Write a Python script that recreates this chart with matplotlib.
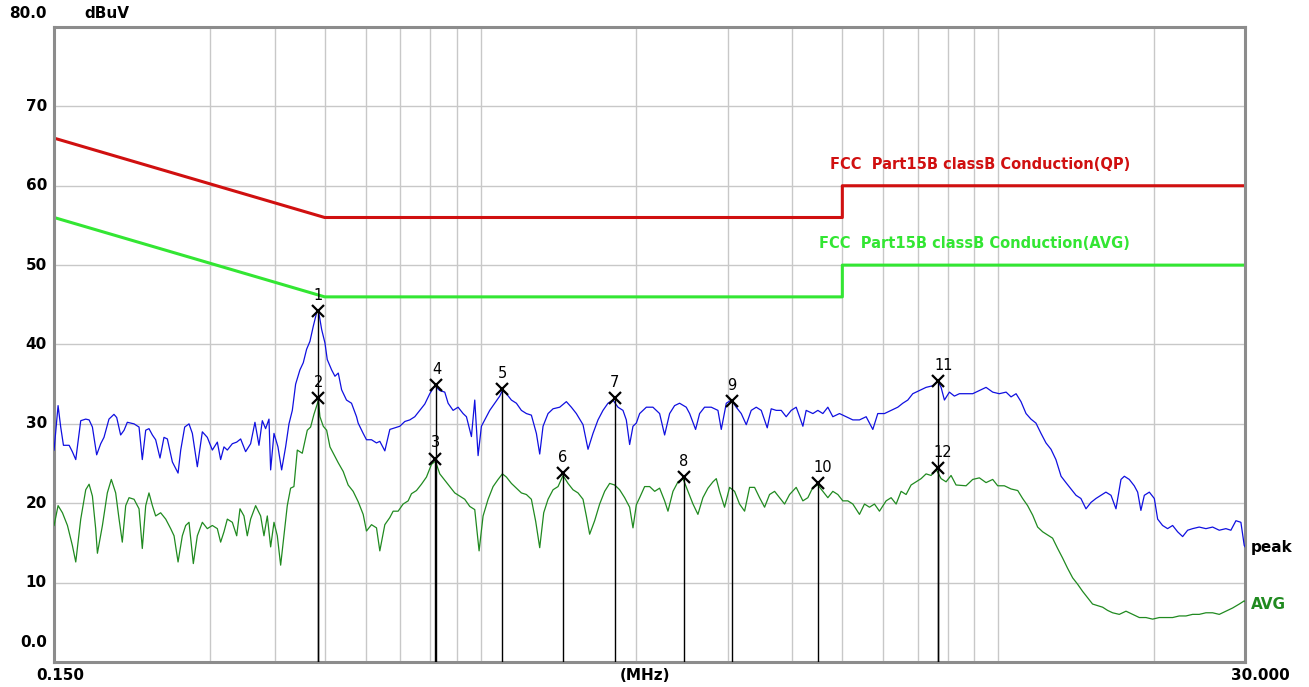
import matplotlib.pyplot as plt
from matplotlib.ticker import NullLocator

# -------------------------------
# 1. Data
# -------------------------------
# peak trace (MHz, dBuV)
peak_mhz = [
    0.150, 0.1527, 0.1545, 0.1564, 0.1604, 0.1627, 0.1652, 0.1689, 0.1727, 0.1753,
    0.1779, 0.1813, 0.1846, 0.1873, 0.1915, 0.1958, 0.1982, 0.2017, 0.2048, 0.2078,
    0.2141, 0.2189, 0.2221, 0.2255, 0.2288, 0.2323, 0.2357, 0.2403, 0.2446, 0.2483,
    0.2539, 0.2604, 0.2635, 0.2682, 0.2734, 0.2775, 0.2837, 0.2901, 0.2966, 0.3033,
    0.3101, 0.3147, 0.3194, 0.3242, 0.3315, 0.3380, 0.3440, 0.3517, 0.3596, 0.3666,
    0.3732, 0.3788, 0.3844, 0.3902, 0.3931, 0.3990, 0.4061, 0.4128, 0.4202, 0.4265,
    0.4329, 0.4393, 0.4478, 0.4545, 0.4613, 0.4682, 0.4752, 0.4823, 0.4859, 0.4932,
    0.5005, 0.5057, 0.5156, 0.5233, 0.5311, 0.5390, 0.5509, 0.5633, 0.5760, 0.5802,
    0.5933, 0.6021, 0.6157, 0.6295, 0.6389, 0.6533, 0.6680, 0.6830, 0.6983, 0.7140,
    0.7300, 0.7464, 0.7632, 0.7804, 0.7979, 0.8159, 0.8342, 0.8529, 0.8657, 0.8851,
    0.9050, 0.9254, 0.9392, 0.9603, 0.9746, 0.9892, 1.0039, 1.0189, 1.0418, 1.0653,
    1.0892, 1.1022, 1.1219, 1.1472, 1.1730, 1.1993, 1.2263, 1.2538, 1.2820, 1.3012,
    1.3206, 1.3503, 1.3807, 1.4222, 1.4649, 1.4978, 1.5314, 1.5775, 1.6130, 1.6492,
    1.6863, 1.7242, 1.7629, 1.8025, 1.8431, 1.8845, 1.9126, 1.9412, 1.9702, 1.9997,
    2.0296, 2.091, 2.153, 2.218, 2.268, 2.319, 2.371, 2.424, 2.497, 2.535,
    2.603, 2.650, 2.709, 2.791, 2.875, 2.918, 2.984, 3.051, 3.119, 3.189,
    3.261, 3.334, 3.409, 3.486, 3.580, 3.644, 3.726, 3.810, 3.895, 3.983,
    4.072, 4.195, 4.257, 4.386, 4.484, 4.585, 4.688, 4.793, 4.937, 5.086,
    5.239, 5.396, 5.559, 5.726, 5.854, 6.031, 6.212, 6.399, 6.543, 6.690,
    6.840, 7.046, 7.257, 7.476, 7.643, 7.758, 7.874, 8.050, 8.231, 8.416,
    8.669, 8.930, 9.199, 9.476, 9.761, 10.05, 10.36, 10.59, 10.83, 11.07,
    11.32, 11.57, 11.83, 12.10, 12.37, 12.65, 12.93, 13.23, 13.52, 13.83,
    14.14, 14.45, 14.78, 15.11, 15.45, 15.80, 16.15, 16.52, 16.89, 17.27,
    17.53, 17.92, 18.32, 18.60, 18.87, 19.16, 19.59, 20.03, 20.33, 20.78,
    21.25, 21.73, 22.22, 22.72, 23.23, 23.75, 24.46, 25.20, 25.96, 26.74,
    27.54, 28.16, 28.80, 29.44, 29.88, 30.0,
]
peak_dbuv = [
    26.7, 32.3, 29.6, 27.3, 27.3, 26.5, 25.5, 30.4, 30.6, 30.5,
    29.6, 26.1, 27.5, 28.3, 30.6, 31.2, 30.8, 28.6, 29.2, 30.2,
    30.0, 29.6, 25.5, 29.2, 29.4, 28.6, 28.0, 25.7, 28.3, 28.1,
    25.2, 23.8, 26.7, 29.6, 30.0, 28.8, 24.6, 29.0, 28.3, 26.7,
    27.7, 25.5, 27.1, 26.7, 27.5, 27.7, 28.1, 26.5, 27.5, 30.2,
    27.3, 30.4, 29.4, 30.6, 24.2, 28.8, 27.1, 24.2, 27.1, 30.0,
    31.7, 35.0, 36.8, 37.7, 39.4, 40.4, 42.3, 44.0, 44.4, 41.9,
    40.2, 38.1, 36.8, 36.0, 36.4, 34.3, 33.0, 32.6, 30.9, 30.1,
    28.8, 28.0, 28.0, 27.6, 27.8, 26.6, 29.3, 29.5, 29.7, 30.3,
    30.5, 30.9, 31.7, 32.5, 33.8, 34.8, 34.2, 34.0, 32.6, 31.7,
    32.1, 31.3, 30.9, 28.4, 33.0, 26.0, 29.7, 30.5, 31.7, 32.6,
    33.5, 34.2, 33.8, 33.0, 32.6, 31.7, 31.3, 31.1, 28.8, 26.2,
    29.7, 31.3, 31.9, 32.1, 32.8, 32.1, 31.3, 29.9, 26.8, 28.8,
    30.5, 31.7, 32.6, 33.0, 32.1, 31.7, 30.5, 27.4, 29.7, 30.1,
    31.3, 32.1, 32.1, 31.3, 28.6, 31.3, 32.3, 32.6, 32.1, 31.3,
    29.3, 31.3, 32.1, 32.1, 31.7, 29.3, 32.6, 33.0, 32.1, 31.3,
    29.9, 31.7, 32.1, 31.7, 29.5, 31.9, 31.7, 31.7, 30.9, 31.7,
    32.1, 29.7, 31.7, 31.3, 31.7, 31.3, 32.1, 30.9, 31.3, 30.9,
    30.5, 30.5, 30.9, 29.3, 31.3, 31.3, 31.7, 32.1, 32.6, 33.0,
    33.8, 34.2, 34.6, 34.8, 35.4, 34.6, 33.0, 34.0, 33.5, 33.8,
    33.8, 33.8, 34.2, 34.6, 34.0, 33.8, 34.0, 33.4, 33.8, 32.8,
    31.3, 30.6, 30.1, 28.8, 27.6, 26.8, 25.5, 23.4, 22.6, 21.8,
    21.0, 20.6, 19.3, 20.1, 20.6, 21.0, 21.4, 21.0, 19.3, 23.0,
    23.4, 23.0, 22.2, 21.4, 19.1, 21.0, 21.4, 20.6, 18.0, 17.2,
    16.8, 17.2, 16.4, 15.8, 16.6, 16.8, 17.0, 16.8, 17.0, 16.6,
    16.8, 16.6, 17.8, 17.6, 14.7, 14.5,
]

# average trace (MHz, dBuV)
avg_mhz = [
    0.150, 0.1527, 0.1557, 0.1592, 0.1627, 0.1652, 0.1689, 0.1727, 0.1753, 0.1779,
    0.1805, 0.1819, 0.1860, 0.1901, 0.1935, 0.1973, 0.2003, 0.2032, 0.2063, 0.2094,
    0.2141, 0.2189, 0.2221, 0.2255, 0.2288, 0.2323, 0.2357, 0.2410, 0.2465, 0.2520,
    0.2558, 0.2604, 0.2654, 0.2694, 0.2734, 0.2787, 0.2837, 0.2901, 0.2966, 0.3033,
    0.3101, 0.3147, 0.3194, 0.3242, 0.3315, 0.3380, 0.3430, 0.3491, 0.3543, 0.3596,
    0.3677, 0.3760, 0.3816, 0.3873, 0.3931, 0.3990, 0.4049, 0.4110, 0.4171, 0.4233,
    0.4296, 0.4360, 0.4426, 0.4525, 0.4627, 0.4696, 0.4766, 0.4837, 0.4859, 0.4895,
    0.4968, 0.5043, 0.5118, 0.5193, 0.5310, 0.5429, 0.5549, 0.5674, 0.5802, 0.5933,
    0.6021, 0.6157, 0.6295, 0.6389, 0.6533, 0.6680, 0.6779, 0.6931, 0.7087, 0.7247,
    0.7355, 0.7520, 0.7689, 0.7862, 0.8039, 0.8180, 0.8342, 0.8529, 0.8721, 0.8917,
    0.9117, 0.9322, 0.9532, 0.9746, 0.9936, 1.0114, 1.0342, 1.0574, 1.0812, 1.1022,
    1.1219, 1.1472, 1.1730, 1.1993, 1.2263, 1.2538, 1.2782, 1.3012, 1.3245, 1.3503,
    1.3807, 1.4117, 1.4434, 1.4757, 1.5088, 1.5429, 1.5775, 1.6010, 1.6249, 1.6614,
    1.6988, 1.7370, 1.7760, 1.8159, 1.8567, 1.8985, 1.9412, 1.9702, 1.9997, 2.0296,
    2.075, 2.122, 2.170, 2.218, 2.268, 2.302, 2.354, 2.407, 2.461, 2.516,
    2.573, 2.630, 2.689, 2.750, 2.812, 2.854, 2.896, 2.961, 3.028, 3.096,
    3.165, 3.237, 3.310, 3.384, 3.460, 3.538, 3.617, 3.699, 3.782, 3.867,
    3.954, 4.072, 4.195, 4.289, 4.386, 4.484, 4.585, 4.688, 4.793, 4.901,
    5.011, 5.124, 5.239, 5.396, 5.518, 5.642, 5.768, 5.898, 6.075, 6.212,
    6.352, 6.494, 6.640, 6.789, 6.942, 7.098, 7.257, 7.420, 7.587, 7.758,
    7.932, 8.110, 8.292, 8.669, 8.930, 9.199, 9.476, 9.761, 9.980, 10.28,
    10.59, 10.91, 11.15, 11.40, 11.66, 11.92, 12.19, 12.46, 12.74, 13.03,
    13.32, 13.62, 13.93, 14.24, 14.56, 14.89, 15.22, 15.57, 15.92, 16.27,
    16.64, 17.14, 17.66, 18.19, 18.74, 19.30, 19.88, 20.48, 21.09, 21.73,
    22.38, 23.06, 23.75, 24.46, 25.20, 25.96, 26.74, 27.54, 28.37, 29.23,
    29.88, 30.0,
]
avg_dbuv = [
    17.2, 19.7, 18.8, 17.2, 14.7, 12.6, 18.0, 21.7, 22.4, 20.9,
    16.8, 13.7, 17.2, 21.3, 23.0, 21.3, 18.0, 15.1, 19.7, 20.7,
    20.5, 19.3, 14.3, 19.7, 21.3, 19.7, 18.4, 18.8, 18.0, 16.8,
    15.9, 12.6, 15.9, 17.2, 17.6, 12.4, 15.9, 17.6, 16.8, 17.2,
    16.8, 15.1, 16.4, 18.0, 17.6, 15.9, 19.3, 18.4, 15.9, 18.0,
    19.7, 18.4, 15.9, 18.4, 14.5, 17.6, 15.9, 12.2, 15.9, 19.7,
    21.9, 22.1, 26.7, 26.3, 29.2, 29.6, 31.2, 32.5, 33.0, 30.9,
    29.7, 29.2, 27.1, 26.3, 25.1, 24.0, 22.3, 21.5, 20.2, 18.6,
    16.5, 17.3, 16.9, 14.0, 17.3, 18.2, 19.0, 19.0, 19.9, 20.3,
    21.2, 21.6, 22.4, 23.3, 24.9, 25.3, 23.7, 22.9, 22.1, 21.3,
    20.9, 20.5, 19.6, 19.2, 14.0, 18.4, 20.5, 22.1, 23.0, 23.7,
    23.3, 22.5, 21.9, 21.3, 21.1, 20.5, 17.7, 14.4, 18.8, 20.5,
    21.7, 22.1, 23.5, 22.5, 21.7, 21.3, 20.5, 18.4, 16.1, 17.8,
    19.9, 21.5, 22.5, 22.3, 21.7, 20.7, 19.5, 16.9, 19.8, 20.7,
    22.1, 22.1, 21.5, 21.9, 20.3, 19.0, 21.5, 22.7, 23.1, 21.5,
    19.9, 18.6, 20.7, 21.9, 22.7, 23.1, 21.5, 19.5, 22.0, 21.5,
    19.9, 19.0, 22.0, 22.0, 20.7, 19.5, 21.1, 21.5, 20.7, 19.9,
    21.1, 22.0, 20.3, 20.7, 22.0, 22.3, 21.5, 20.7, 21.5, 21.1,
    20.3, 20.3, 19.9, 18.6, 19.9, 19.5, 19.9, 19.0, 20.3, 20.7,
    19.9, 21.5, 21.1, 22.3, 22.7, 23.1, 23.7, 23.5, 24.3, 23.1,
    22.7, 23.5, 22.3, 22.2, 23.0, 23.2, 22.6, 23.0, 22.2, 22.2,
    21.8, 21.6, 20.6, 19.7, 18.5, 17.0, 16.4, 16.0, 15.6, 14.3,
    13.1, 11.8, 10.6, 9.8, 8.9, 8.1, 7.3, 7.1, 6.9, 6.5,
    6.2, 6.0, 6.4, 6.0, 5.6, 5.6, 5.4, 5.6, 5.6, 5.6,
    5.8, 5.8, 6.0, 6.0, 6.2, 6.2, 6.0, 6.4, 6.8, 7.3,
    7.7, 7.6,
]

# limit lines
limit_mhz = [0.15, 0.5, 5.0, 5.0, 30.0]
qp_limit = [66, 56, 56, 60, 60]
avg_limit = [56, 46, 46, 50, 50]

# markers
mk_num = ["1", "2", "3", "4", "5", "6", "7", "8", "9", "10", "11", "12"]
mk_mhz = [0.486, 0.486, 0.818, 0.822, 1.102, 1.443, 1.817, 2.468, 3.06, 4.48, 7.64, 7.64]
mk_dbuv = [44.2, 33.2, 25.6, 34.9, 34.4, 23.8, 33.2, 23.3, 32.9, 22.5, 35.4, 24.4]

grid_mhz = [0.3, 0.4, 0.5, 0.6, 0.7, 0.8, 0.9, 1, 2, 3, 4, 5, 6, 7, 8, 9, 10, 20]
grid_db = [10, 20, 30, 40, 50, 60, 70]

# -------------------------------
# 2. Figure and axes
# -------------------------------
plt.rcParams['font.family'] = ['DejaVu Sans']
fig = plt.figure(figsize=(13.09, 6.87), dpi=100)
ax = fig.add_axes([0.0413, 0.0364, 0.9099, 0.9243])
ax.set_xscale('log')
ax.set_xlim(0.15, 30)
ax.set_ylim(0, 80)
ax.xaxis.set_major_locator(NullLocator())
ax.xaxis.set_minor_locator(NullLocator())
ax.set_yticks([])

for s in ax.spines.values():
    s.set_color('#8c8c8c')
    s.set_linewidth(2.2)

for g in grid_mhz:
    ax.axvline(g, color='#c8c8c8', lw=1, zorder=0)
for g in grid_db:
    ax.axhline(g, color='#c8c8c8', lw=1, zorder=0)

# -------------------------------
# 3. Limits and traces
# -------------------------------
ax.plot(limit_mhz, qp_limit, color='#d01010', lw=2.2, zorder=2)
ax.plot(limit_mhz, avg_limit, color='#33e633', lw=2.2, zorder=2)
ax.plot(peak_mhz, peak_dbuv, color='#1010e0', lw=0.9, zorder=3)
ax.plot(avg_mhz, avg_dbuv, color='#208a20', lw=0.9, zorder=3)

ax.text(0.9035, 0.7827, "FCC  Part15B classB Conduction(QP)", transform=ax.transAxes,
        ha='right', va='center', color='#d01010', fontsize=10.5, fontweight='bold')
ax.text(0.9035, 0.6598, "FCC  Part15B classB Conduction(AVG)", transform=ax.transAxes,
        ha='right', va='center', color='#33e633', fontsize=10.5, fontweight='bold')

# markers with drop lines
for n, f, v in zip(mk_num, mk_mhz, mk_dbuv):
    ax.vlines(f, 0, v, color='black', lw=1, zorder=4)
    ax.plot(f, v, marker='x', ms=9, mew=1.6, color='black', zorder=5)
    dx = 4 if len(n) > 1 else 0
    ax.annotate(n, (f, v), xytext=(dx, 6), textcoords='offset points',
                ha='center', va='bottom', fontsize=10.5, color='black')

# -------------------------------
# 4. Axis texts
# -------------------------------
bold = dict(fontsize=11, fontweight='bold', color='black')
for g in grid_db:
    ax.text(-0.006, g, str(g), transform=ax.get_yaxis_transform(),
            ha='right', va='center', **bold)
ax.text(-0.006, 1.0205, "80.0", transform=ax.transAxes, ha='right', va='center', **bold)
ax.text(0.0445, 1.0205, "dBuV", transform=ax.transAxes, ha='center', va='center', **bold)
ax.text(-0.006, 0.030, "0.0", transform=ax.transAxes, ha='right', va='center', **bold)
ax.text(0.005, -0.0205, "0.150", transform=ax.transAxes, ha='center', va='center', **bold)
ax.text(0.496, -0.0205, "(MHz)", transform=ax.transAxes, ha='center', va='center', **bold)
ax.text(1.0126, -0.0205, "30.000", transform=ax.transAxes, ha='center', va='center', **bold)
ax.text(1.005, 0.181, "peak", transform=ax.transAxes, ha='left', va='center', **bold)
ax.text(1.005, 0.0898, "AVG", transform=ax.transAxes, ha='left', va='center',
        fontsize=11, fontweight='bold', color='#208a20')

fig.savefig("out.png", dpi=100)
